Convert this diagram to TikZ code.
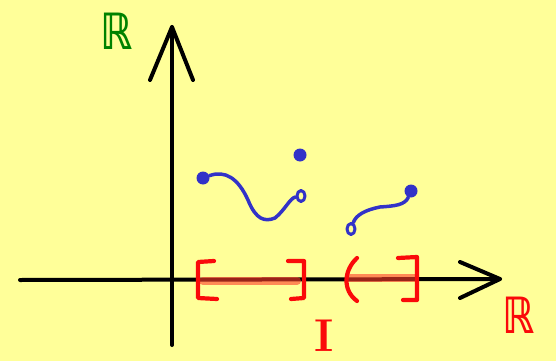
\documentclass[tikz,border=0pt]{standalone}
\usepackage{fontspec}
\usetikzlibrary{shapes.geometric}
\newfontfamily\symfont{DejaVu Sans}
\newfontfamily\symfontb{DejaVu Sans Bold}
\definecolor{bg}{RGB}{255,255,153}
\definecolor{pen}{RGB}{50,50,200}
\definecolor{rd}{RGB}{250,10,10}
\definecolor{segc}{RGB}{255,60,40}
\definecolor{gr}{RGB}{0,130,0}
\begin{document}
\begin{tikzpicture}[x=1pt,y=-1pt,line cap=round,line join=round,
  axis/.style={line width=4pt,black},
  brk/.style={line width=4.2pt,rd},
  seg/.style={line width=8pt,segc,opacity=0.6},
  curve/.style={line width=3.5pt,pen},
  fdot/.style={circle,fill=pen,inner sep=0pt,minimum size=13pt},
  odot/.style={ellipse,draw=pen,line width=3pt,inner sep=0pt,minimum width=8pt,minimum height=11pt},
  lab/.style={inner sep=0pt}]
\fill[bg] (0,0) rectangle (556,361);
\useasboundingbox (0,0) rectangle (556,361);
% axes
\coordinate (xl) at (20,280);
\coordinate (xr) at (500,279);
\coordinate (xa1) at (460,262);
\coordinate (xa2) at (460,298);
\coordinate (yb) at (172,345);
\coordinate (yt) at (172,27);
\coordinate (ya1) at (150,80);
\coordinate (ya2) at (193,80);
\draw[axis] (xl) -- (xr);
\draw[axis] (xa1) -- (xr) -- (xa2);
\draw[axis] (yb) -- (yt);
\draw[axis] (ya1) -- (yt) -- (ya2);
% intervals
\draw[seg] (203,281) -- (297,281);
\draw[seg] (350,278) -- (415,278);
\draw[brk] (214,261) -- (198,262) -- (198,298) -- (217,299);
\draw[brk] (288,261) -- (304,261) -- (304,298) -- (291,299);
\draw[brk] (357,258) .. controls (344,270) and (342,290) .. (357,301);
\draw[brk] (398,258) -- (417,257) -- (417,300) -- (403,300);
% labels
\node[lab,text=gr,xscale=0.8] (R1) at (117,31) {\fontsize{50}{50}\symfontb ℝ};
\node[lab,text=rd,xscale=0.8] (R2) at (519,315) {\fontsize{50}{50}\symfontb ℝ};
\node[lab,text=rd] (I) at (324,336) {\fontsize{46}{46}\selectfont\bfseries I};
% function pieces
\node[fdot] (a) at (203,178) {};
\node[odot] (b) at (301,196) {};
\node[fdot] (c) at (300,155) {};
\node[odot] (d) at (351,229) {};
\node[fdot] (e) at (411,191) {};
\draw[curve] (a) .. controls (225,170) and (238,178) .. (248,200)
  .. controls (256,220) and (265,222) .. (275,218)
  .. controls (285,210) and (290,198) .. (b);
\draw[curve] (d) .. controls (356,215) and (365,210) .. (380,207)
  .. controls (395,206) and (405,205) .. (e);
\end{tikzpicture}
\end{document}
